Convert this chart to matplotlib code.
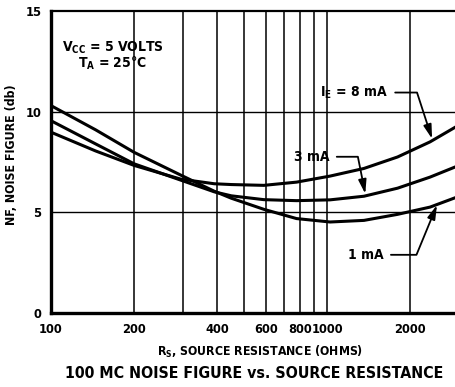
import numpy as np
import matplotlib
matplotlib.use("Agg")
import matplotlib.pyplot as plt
from matplotlib.ticker import FixedLocator, FixedFormatter, NullLocator

plt.rcParams['font.family'] = ['DejaVu Sans']
plt.rcParams['font.stretch'] = 'condensed'
plt.rcParams['font.weight'] = 'bold'
plt.rcParams['mathtext.fontset'] = 'custom'
plt.rcParams['mathtext.rm'] = 'DejaVu Sans:bold'
plt.rcParams['mathtext.it'] = 'DejaVu Sans:bold'
plt.rcParams['mathtext.bf'] = 'DejaVu Sans:bold'

# ---- data ----
rs = [100, 145, 200, 295, 390, 450, 590, 775, 1025, 1360, 1800, 2360, 2930]
nf_1ma = [10.3, 9.1, 7.98, 6.85, 6.05, 5.7, 5.15, 4.69, 4.52, 4.6, 4.9, 5.26, 5.74]
nf_3ma = [9.55, 8.4, 7.41, 6.6, 6.02, 5.82, 5.63, 5.58, 5.62, 5.8, 6.2, 6.75, 7.27]
nf_8ma = [8.98, 8.05, 7.33, 6.65, 6.42, 6.38, 6.34, 6.5, 6.8, 7.18, 7.75, 8.5, 9.25]

x_ticks = [100, 200, 400, 600, 800, 1000, 2000]
x_tick_labels = ['100', '200', '400', '600', '800', '1000', '2000']
x_grid = [200, 300, 400, 500, 600, 700, 800, 900, 1000, 2000]
y_ticks = [0, 5, 10, 15]
y_grid = [5, 10]

labels = ['$\\mathregular{I_E}$ = 8 mA', '3 mA', '1 mA']
label_text_pos = [(1665, 10.95), (1023, 7.76), (1607, 2.89)]
label_tip_pos = [(2400, 8.65), (1375, 5.92), (2500, 5.36)]
label_angles = [-72, -78.7, 67.6]

fig = plt.figure(figsize=(4.56, 3.87), dpi=100)
ax = fig.add_axes([51/456, 1-313/387, 1-51/456, (313-11)/387])
ax.set_xscale('log')
ax.set_xlim(100, 2930)
ax.set_ylim(0, 15)

for xv in x_grid:
    ax.axvline(xv, color='black', lw=1.1, zorder=1)
for yv in y_grid:
    ax.axhline(yv, color='black', lw=1.0, zorder=1)

for ys in (nf_1ma, nf_3ma, nf_8ma):
    ax.plot(rs, ys, color='black', lw=2.2, solid_capstyle='butt',
            solid_joinstyle='round', zorder=3)

ax.xaxis.set_major_locator(FixedLocator(x_ticks))
ax.xaxis.set_major_formatter(FixedFormatter(x_tick_labels))
ax.xaxis.set_minor_locator(NullLocator())
ax.set_yticks(y_ticks)
ax.tick_params(length=0, labelsize=9.2, pad=7)
for t in ax.get_xticklabels() + ax.get_yticklabels():
    t.set_fontweight('bold')

ax.spines['right'].set_visible(False)
ax.spines['left'].set_linewidth(2.4)
ax.spines['bottom'].set_linewidth(2.4)
ax.spines['top'].set_linewidth(1.6)

for lab, tp, tip, ang in zip(labels, label_text_pos, label_tip_pos, label_angles):
    ax.annotate(lab, xy=tip, xytext=tp, ha='right', va='center',
                fontsize=10, fontweight='bold', zorder=5,
                arrowprops=dict(arrowstyle='-|>,head_length=0.7,head_width=0.2',
                                connectionstyle=f'angle,angleA=0,angleB={ang},rad=0',
                                color='black', lw=1.3, shrinkA=3, shrinkB=0,
                                mutation_scale=12))

ax.text(0.153, 0.877, '$\\mathregular{V_{CC}}$ = 5 VOLTS', transform=ax.transAxes,
        ha='center', va='center', fontsize=10, fontweight='bold')
ax.text(0.153, 0.826, '$\\mathregular{T_A}$ = 25°C', transform=ax.transAxes,
        ha='center', va='center', fontsize=10, fontweight='bold')

fig.text(12/456, 1-155/387, 'NF, NOISE FIGURE (db)', rotation=90,
         ha='center', va='center', fontsize=8.9, fontweight='bold')
fig.text(260/456, 1-352/387, '$\\mathregular{R_S}$, SOURCE RESISTANCE (OHMS)',
         ha='center', va='center', fontsize=8.8, fontweight='bold')
fig.text(254/456, 1-374/387, '100 MC NOISE FIGURE vs. SOURCE RESISTANCE',
         ha='center', va='center', fontsize=11.4, fontweight='bold')

fig.savefig('out.png', dpi=100)
